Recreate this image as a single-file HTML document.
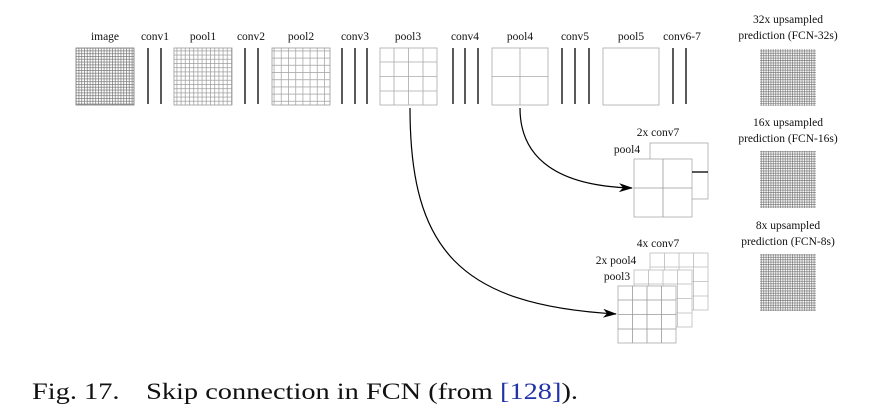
<!DOCTYPE html>
<html><head><meta charset="utf-8"><style>
html,body{margin:0;padding:0;background:#fff;width:874px;height:420px;overflow:hidden}
svg text{font-family:"Liberation Serif",serif;fill:#111}
</style></head><body>
<svg width="874" height="420" viewBox="0 0 874 420" xmlns="http://www.w3.org/2000/svg">
<defs>
<pattern id="g3" width="2.8" height="2.8" patternUnits="userSpaceOnUse"><path d="M0 0.5H2.8M0.5 0V2.8" stroke="#777" stroke-width="0.7"/></pattern>
<pattern id="g4" width="4.2" height="4.2" patternUnits="userSpaceOnUse"><path d="M0 0.5H4.2M0.5 0V4.2" stroke="#999" stroke-width="0.7"/></pattern>
<pattern id="g7" width="7.2" height="7.2" patternUnits="userSpaceOnUse"><path d="M0 0.5H7.2M0.5 0V7.2" stroke="#aaa" stroke-width="0.8"/></pattern>
<pattern id="gp" width="2.4" height="2.4" patternUnits="userSpaceOnUse"><path d="M0 0.5H2.4M0.5 0V2.4" stroke="#666" stroke-width="0.6"/></pattern>
<marker id="ar" markerWidth="14" markerHeight="9" refX="13" refY="4.5" orient="auto" markerUnits="userSpaceOnUse"><path d="M0 0L14 4.5L0 9L4 4.5Z" fill="#000"/></marker>
</defs>
<g font-size="11.5" text-anchor="middle">
<text x="105" y="40">image</text><text x="155" y="40">conv1</text><text x="203" y="40">pool1</text><text x="251" y="40">conv2</text><text x="301" y="40">pool2</text><text x="355" y="40">conv3</text><text x="408" y="40">pool3</text><text x="465" y="40">conv4</text><text x="520" y="40">pool4</text><text x="575" y="40">conv5</text><text x="631" y="40">pool5</text><text x="682" y="40">conv6-7</text>
<text x="788" y="23">32x upsampled</text><text x="788" y="39">prediction (FCN-32s)</text>
<text x="788" y="126">16x upsampled</text><text x="788" y="142">prediction (FCN-16s)</text>
<text x="788" y="229">8x upsampled</text><text x="788" y="245">prediction (FCN-8s)</text>
<text x="658" y="136">2x conv7</text><text x="627" y="153">pool4</text>
<text x="658" y="247">4x conv7</text><text x="616" y="264">2x pool4</text><text x="617" y="280">pool3</text>
</g>
<rect x="76" y="48" width="58" height="57" fill="url(#g3)" stroke="#777" stroke-width="0.8"/>
<rect x="174" y="48" width="58" height="57" fill="url(#g4)" stroke="#999" stroke-width="0.8"/>
<rect x="272" y="48" width="58" height="57" fill="url(#g7)" stroke="#999" stroke-width="0.8"/>
<g stroke="#aaa" stroke-width="0.8" fill="none">
<rect x="380" y="48" width="57" height="57"/><path d="M394 48V105M408.5 48V105M423 48V105M380 62H437M380 76.5H437M380 91H437"/>
<rect x="492" y="48" width="56" height="57"/><path d="M520 48V105M492 76.5H548"/>
<rect x="603" y="48" width="56" height="57"/>
</g>
<g stroke="#000" stroke-width="1.3">
<path d="M148 48V104M161 48V104M245 48V104M258 48V104M342 48V104M355 48V104M367 48V104M453 48V104M465 48V104M478 48V104M562 48V104M575 48V104M589 48V104M673 48V104M686 48V104"/>
</g>
<rect x="760" y="49" width="56" height="57" fill="url(#gp)"/>
<rect x="760" y="151" width="56" height="57" fill="url(#gp)"/>
<rect x="760" y="254" width="56" height="57" fill="url(#gp)"/>
<g stroke="#aaa" stroke-width="0.8" fill="#fff">
<rect x="650" y="143" width="58" height="56"/>
<rect x="634" y="159" width="58" height="58"/>
<path d="M663 159V217M634 188H692" fill="none" stroke="#999"/>
</g>
<path d="M692 172H708" stroke="#000" stroke-width="1.3"/>
<g stroke="#bbb" stroke-width="0.8" fill="#fff">
<rect x="650" y="253" width="58" height="57"/><path d="M664.5 253V310M679 253V310M693.5 253V310M650 267H708M650 281.5H708M650 296H708" fill="none"/>
<rect x="634" y="270" width="58" height="57"/><path d="M648.5 270V327M663 270V327M677.5 270V327M634 284H692M634 298.5H692M634 313H692" fill="none"/>
<rect x="618" y="286" width="58" height="57" stroke="#aaa"/><path d="M632.5 286V343M647 286V343M661.5 286V343M618 300H676M618 314.5H676M618 329H676" fill="none" stroke="#999"/>
</g>
<path d="M520 108C520 160 560 186 632 188" fill="none" stroke="#000" stroke-width="1.2" marker-end="url(#ar)"/>
<path d="M410 108C410 250 460 305 616 314" fill="none" stroke="#000" stroke-width="1.2" marker-end="url(#ar)"/>
<text x="32" y="399" font-size="23.5" textLength="546" lengthAdjust="spacingAndGlyphs">Fig. 17.<tspan dx="22">Skip connection in FCN (from </tspan><tspan style="fill:#2233aa">[128]</tspan>).</text>
</svg>
</body></html>
